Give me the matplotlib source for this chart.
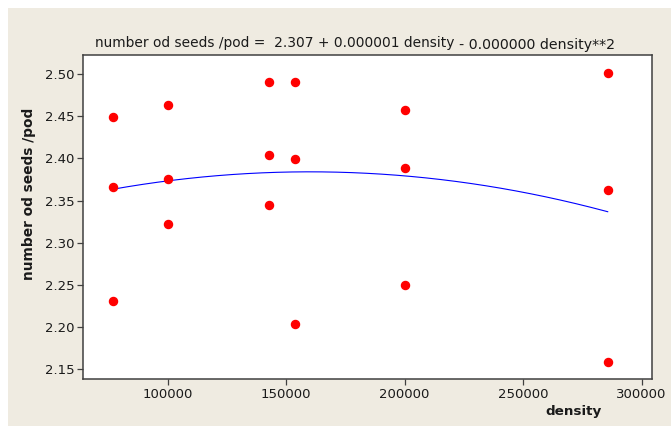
import numpy as np
import matplotlib
matplotlib.use('Agg')
import matplotlib.pyplot as plt
from matplotlib.patches import Rectangle

# Data
density = [76923, 76923, 76923,
           100000, 100000, 100000,
           142857, 142857, 142857,
           153846, 153846, 153846,
           200000, 200000, 200000,
           285714, 285714, 285714]
seeds_per_pod = [2.449, 2.366, 2.231,
                 2.463, 2.375, 2.322,
                 2.491, 2.404, 2.345,
                 2.491, 2.399, 2.204,
                 2.457, 2.389, 2.250,
                 2.501, 2.363, 2.159]
x_ticks = [100000, 150000, 200000, 250000, 300000]
y_ticks = [2.15, 2.20, 2.25, 2.30, 2.35, 2.40, 2.45, 2.50]
title_part1 = "number od seeds /pod =  2.307 + 0.000001 density"
title_part2 = "- 0.000000 density**2"

W, H = 671, 426
BG = '#efebe1'
TXT = '#1a1a1a'
fig = plt.figure(figsize=(W / 100, H / 100), dpi=100, facecolor='white')
fig.patches.append(Rectangle((8 / W, 0), 1, 1 - 8 / H, transform=fig.transFigure,
                             facecolor=BG, edgecolor='none', zorder=-10))

ax = fig.add_axes([82.7 / W, 1 - 379.3 / H, (652 - 82.7) / W, (379.3 - 55) / H])
ax.set_facecolor('white')

x = np.array(density, dtype=float)
y = np.array(seeds_per_pod, dtype=float)
coef = np.polyfit(x, y, 2)
xf = np.linspace(x.min(), x.max(), 200)
ax.plot(xf, np.polyval(coef, xf), color='#0000ff', lw=0.8, zorder=2)
ax.plot(x, y, 'o', color='#ff0000', ms=5.8, mec='#ff0000', zorder=3)

ax.set_xlim(64200, 304400)
ax.set_ylim(2.1381, 2.5225)
ax.set_xticks(x_ticks)
ax.set_xticklabels([str(t) for t in x_ticks])
ax.set_yticks(y_ticks)
ax.set_yticklabels([f"{t:.2f}" for t in y_ticks])
for s in ax.spines.values():
    s.set_color('#404040')
    s.set_linewidth(1.1)
ax.tick_params(direction='out', length=4, width=0.9, color='#404040',
               labelsize=9.5, labelcolor=TXT, pad=2)

fig.text(95 / W, 1 - 47.3 / H, title_part1, ha='left', va='baseline',
         fontsize=9.9, color=TXT)
fig.text(459 / W, 1 - 49.3 / H, title_part2, ha='left', va='baseline',
         fontsize=10.2, color=TXT)
fig.text(28.7 / W, 1 - 193.5 / H, "number od seeds /pod", rotation=90,
         ha='center', va='center', fontsize=9.9, fontweight='bold', color=TXT)
fig.text(574 / W, 1 - 411.7 / H, "density", ha='center', va='center',
         fontsize=9.7, fontweight='bold', color=TXT)

fig.savefig('out.png', dpi=100, facecolor=fig.get_facecolor())
